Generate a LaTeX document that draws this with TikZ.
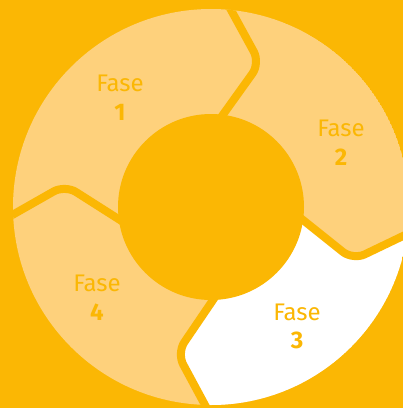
\documentclass[tikz,border=0pt]{standalone}
\usepackage{fontspec}
\setmainfont{Fira Sans}
\definecolor{bgc}{RGB}{251,183,4}
\definecolor{lightc}{RGB}{254,209,124}
\begin{document}
\begin{tikzpicture}[x=1pt,y=-1pt,
  sep/.style={draw=bgc,line width=8pt,rounded corners=13pt},
  word/.style={text=bgc,font=\fontsize{24}{24}\selectfont,anchor=base,inner sep=0pt},
  num/.style={text=bgc,font=\fontsize{24}{24}\selectfont\bfseries,anchor=base,inner sep=0pt}]
\useasboundingbox (0,0) rectangle (403,408);
\fill[bgc] (0,0) rectangle (403,408);
\coordinate (O) at (211,207);
% boundary points
\coordinate (I12) at (199.2,147.8); \coordinate (C12) at (260,63);  \coordinate (E12) at (219.4,-11.2);
\coordinate (I23) at (273,196);     \coordinate (C23) at (353,260); \coordinate (E23) at (428,224);
\coordinate (I34) at (234.6,268.2); \coordinate (C34) at (177,353); \coordinate (E34) at (213.4,420.6);
\coordinate (I41) at (153,241);     \coordinate (C41) at (65,185);  \coordinate (E41) at (-1.3,222.7);
\begin{scope}
  \clip (O) circle (198);
  \fill[lightc] (O) circle (198);
  \fill[white,rounded corners=13pt] (O) -- (I23) -- (C23) -- (E23) -- (450,450) -- (213,450) -- (E34) -- (C34) -- (I34) -- cycle;
  \draw[sep] (I12) -- (C12) -- (E12);
  \draw[sep] (I23) -- (C23) -- (E23);
  \draw[sep] (I34) -- (C34) -- (E34);
  \draw[sep] (I41) -- (C41) -- (E41);
\end{scope}
\fill[bgc] (O) circle (93);
\node[word] (f1) at (120,91) {Fase};
\node[num]  (n1) at (120,120) {1};
\node[word] (f2) at (341,136) {Fase};
\node[num]  (n2) at (341,165) {2};
\node[word] (f3) at (297,320) {Fase};
\node[num]  (n3) at (297,348) {3};
\node[word] (f4) at (97,291) {Fase};
\node[num]  (n4) at (97,320) {4};
\end{tikzpicture}
\end{document}
